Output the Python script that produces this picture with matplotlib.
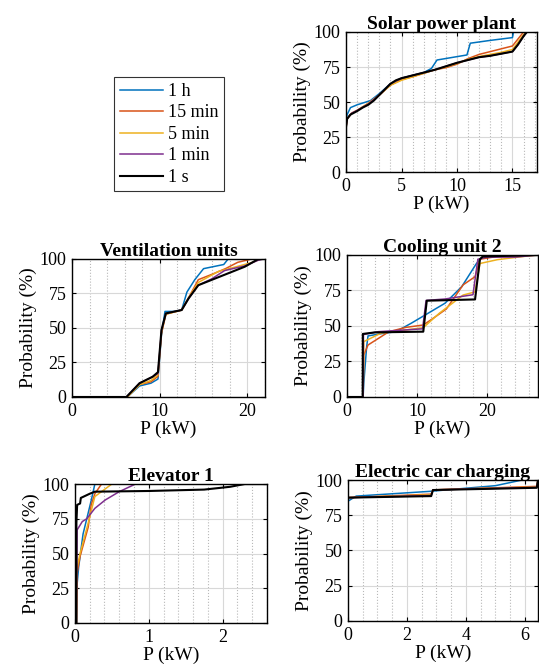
import matplotlib
matplotlib.use('Agg')
import matplotlib.pyplot as plt
from matplotlib.ticker import MultipleLocator

plt.rcParams['font.family'] = ['Liberation Serif', 'DejaVu Serif']

labels = ['1 h', '15 min', '5 min', '1 min', '1 s']
colors = ['#0072BD', '#D95319', '#EDB120', '#7E2F8E', 'black']

# Solar power plant
solar_x = [
    [0, 0.1, 0.4, 1.0, 2.2, 3.0, 4.0, 5.0, 6.0, 7.0, 7.7, 8.2, 10.9, 11.2, 13.0, 15.0, 15.1],
    [0, 0.1, 0.5, 1.0, 2.0, 3.0, 4.0, 5.0, 6.0, 7.0, 8.0, 9.0, 10.0, 11.0, 12.0, 13.0, 14.0, 15.0, 15.5, 16.0],
    [0, 0.1, 0.5, 1.0, 2.0, 3.0, 4.0, 5.0, 6.0, 7.0, 8.0, 9.0, 10.0, 11.0, 12.0, 13.0, 14.0, 15.0, 15.8, 16.2],
    [0, 0.1, 0.5, 1.0, 2.0, 3.0, 4.0, 5.0, 6.0, 7.0, 8.0, 9.0, 10.0, 11.0, 12.0, 13.0, 14.0, 15.0, 15.5, 16.0, 16.3],
    [0, 0, 0.1, 0.4, 1.0, 1.5, 2.0, 2.5, 3.0, 3.5, 4.0, 4.5, 5.0, 6.0, 7.0, 8.0, 9.0, 10.0, 11.0, 12.0, 13.0, 14.0, 15.0, 15.5, 16.0, 16.3],
]
solar_y = [
    [37, 41, 46, 48, 51, 56, 63, 67, 69, 71, 74, 80, 83.6, 92, 94, 96, 100],
    [32, 38, 42, 44, 49, 55, 62, 66, 68, 70.5, 73, 74.5, 77, 81, 84, 86, 88, 90, 95, 100],
    [32, 38, 42, 44, 49, 55, 62, 65.5, 68, 70.5, 73, 75, 77.5, 80.5, 82.5, 84, 85.5, 87.5, 96, 100],
    [32, 38, 42, 44, 48.5, 55, 63, 67, 69, 71, 73, 75.5, 78, 80, 82, 83, 84.5, 86, 91, 97, 100],
    [0, 32, 38, 41, 43.5, 46, 48, 51, 55, 59, 63, 65.5, 67, 69, 71, 73, 75.5, 78, 80, 82, 83, 84.5, 86, 91, 97, 100],
]

# Ventilation units
vent_x = [
    [0, 6.3, 7.7, 9.0, 9.8, 10.2, 10.6, 11.6, 12.5, 13.1, 14.0, 15.0, 17.3, 17.8],
    [0, 6.3, 7.7, 9.0, 9.8, 10.2, 10.7, 11.6, 12.5, 13.3, 14.4, 16.0, 17.5, 18.9, 20.5],
    [0, 6.3, 7.7, 9.0, 9.8, 10.2, 10.7, 11.6, 12.5, 13.3, 14.4, 16.7, 18.5, 20.6, 21.5],
    [0, 6.2, 7.7, 9.0, 9.8, 10.2, 10.7, 11.6, 12.5, 13.3, 14.4, 15.9, 17.4, 19.7, 21.2, 21.8],
    [0, 6.2, 7.7, 9.2, 9.8, 10.2, 10.7, 11.6, 12.5, 13.3, 14.4, 15.9, 17.8, 19.7, 21.2, 21.8],
]
vent_y = [
    [0, 0, 8, 10, 13, 45, 62, 62, 63, 76, 85, 93, 96, 100],
    [0, 0, 9, 11, 15, 46, 60, 61.5, 63, 72, 85, 89, 93, 97.6, 100],
    [0, 0, 9, 12, 16, 47, 60, 61.5, 63, 72, 83, 91, 94, 97.6, 100],
    [0, 0, 10, 14, 17, 48, 60.5, 61.8, 63, 71.5, 81, 85.5, 91.6, 95, 99, 100],
    [0, 0, 10, 14.7, 18, 48.6, 60.6, 61.8, 63, 71.5, 81, 84.8, 89.6, 94.4, 99.8, 100],
]

# Cooling unit 2
cool_x = [
    [0, 2.3, 2.4, 2.8, 3.0, 4.9, 7.0, 9.2, 11.6, 14.0, 16.4, 18.5, 19.6, 27.3],
    [0, 2.3, 2.4, 3.0, 6.0, 8.4, 10.9, 12.2, 14.2, 16.6, 18.3, 19.0, 21.5, 27.3],
    [0, 2.3, 2.4, 4.9, 10.9, 13.2, 16.6, 18.3, 19.0, 21.5, 25.3, 27.3],
    [0, 2.3, 2.35, 4.5, 10.8, 11.3, 14.0, 18.0, 18.7, 20.0, 24.0, 27.3],
    [0, 2.24, 2.26, 4.0, 10.9, 11.4, 18.3, 19.0, 19.4, 27.3],
]
cool_y = [
    [0, 0, 10, 35, 43, 44.6, 46, 52, 59, 66, 77.7, 94, 100, 100],
    [0, 0, 29.6, 36.6, 46, 49, 50.7, 55, 62, 79, 84.7, 97, 99, 100],
    [0, 0, 39, 45, 48.8, 59, 71.8, 74, 94, 96.7, 99, 100],
    [0, 0, 44, 46, 48, 68, 69, 72, 97, 98.5, 98.5, 100],
    [0, 0, 44.4, 45.5, 46, 67.8, 68.7, 97, 98.9, 100],
]

# Elevator 1
elev_x = [
    [0.02, 0.02, 0.05, 0.11, 0.22, 0.27],
    [0.02, 0.03, 0.07, 0.18, 0.22, 0.27, 0.36],
    [0.02, 0.03, 0.07, 0.18, 0.27, 0.5],
    [0.02, 0.03, 0.1, 0.16, 0.27, 0.41, 0.6, 0.82],
    [0.02, 0.02, 0.03, 0.07, 0.08, 0.2, 0.27, 1.0, 1.75, 2.1, 2.3, 2.6],
]
elev_y = [
    [0, 22, 40, 64, 88, 100],
    [0, 36, 48, 69, 85, 93, 100],
    [0, 40, 50, 72, 91, 100],
    [0, 67, 73, 75, 82.5, 88.5, 94.5, 100],
    [0, 72, 85, 86, 90, 93, 94.5, 95, 96, 98, 100, 100],
]

# Electric car charging
car_x = [
    [0, 0.28, 2.8, 5.0, 5.9, 6.44],
    [0, 2.82, 2.88, 6.4, 6.44],
    [0, 2.82, 2.88, 6.4, 6.44],
    [0, 2.82, 2.88, 6.4, 6.44],
    [0, 2.82, 2.88, 6.4, 6.44],
]
car_y = [
    [85, 88.6, 92, 96, 100, 100],
    [87.5, 90, 93, 95.5, 100],
    [87.5, 89.5, 93, 95, 100],
    [87.5, 89, 93, 94.8, 100],
    [87.5, 88.6, 92.9, 94.5, 100],
]

panels = [
    ('Solar power plant', solar_x, solar_y, [0.642, 0.7425, 0.354, 0.2096], 17.2, 5, 1),
    ('Ventilation units', vent_x, vent_y, [0.1336, 0.4057, 0.358, 0.2066], 22, 10, 2),
    ('Cooling unit 2', cool_x, cool_y, [0.6438, 0.4057, 0.3544, 0.2126], 27.3, 10, 2),
    ('Elevator 1', elev_x, elev_y, [0.139, 0.0674, 0.3562, 0.208], 2.6, 1, 0.2),
    ('Electric car charging', car_x, car_y, [0.6456, 0.0704, 0.3525, 0.211], 6.44, 2, 0.5),
]

fig = plt.figure(figsize=(5.39, 6.68), dpi=100)

handles = None
for title, xs, ys, pos, xmax, major, minor in panels:
    ax = fig.add_axes(pos)
    hs = []
    for i in range(5):
        lw = 1.5 if i == 4 else 1.1
        h, = ax.plot(xs[i], ys[i], color=colors[i], lw=lw, label=labels[i])
        hs.append(h)
    if handles is None:
        handles = hs
    ax.set_xlim(0, xmax)
    ax.set_ylim(0, 100)
    ax.set_yticks([0, 25, 50, 75, 100])
    ax.xaxis.set_major_locator(MultipleLocator(major))
    ax.xaxis.set_minor_locator(MultipleLocator(minor))
    ax.grid(True, which='major', color='#d8d8d8', lw=0.8)
    ax.grid(True, which='minor', axis='x', color='#b8b8b8', ls=':', lw=0.8)
    ax.set_axisbelow(True)
    ax.tick_params(direction='in', labelsize=13, length=3, top=True, right=True, pad=4)
    ax.tick_params(which='minor', length=0)
    for s in ax.spines.values():
        s.set_linewidth(1.0)
    ax.set_title(title, fontsize=14, fontweight='bold', pad=2)
    ax.set_xlabel('P (kW)', fontsize=14, labelpad=1)
    ax.set_ylabel('Probability (%)', fontsize=14, labelpad=2)

leg = fig.legend(handles=handles, labels=labels, loc='upper left',
                 bbox_to_anchor=(0.212, 0.884), fontsize=13, frameon=True,
                 fancybox=False, edgecolor='black', handlelength=2.4,
                 labelspacing=0.25, borderpad=0.3, handletextpad=0.3,
                 borderaxespad=0)
leg.get_frame().set_linewidth(0.8)

fig.savefig('out.png', dpi=100)
